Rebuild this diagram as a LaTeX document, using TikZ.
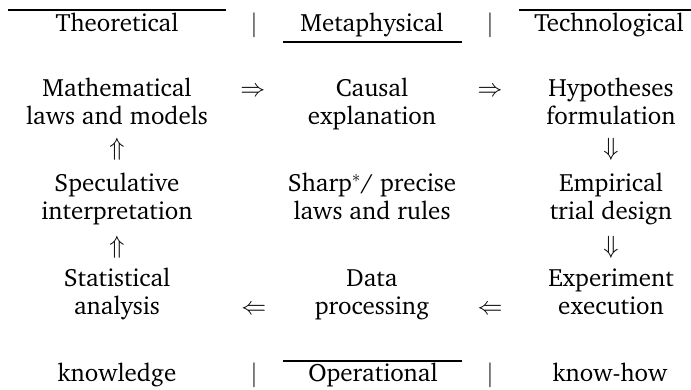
\documentclass[tikz,border=0pt]{standalone}
\usepackage[T1]{fontenc}
\usepackage{charter}

\begin{document}
\begin{tikzpicture}[x=1pt, y=1pt,
    stage/.style={align=center, inner sep=0pt, anchor=base, font=\fontsize{25}{28}\selectfont},
    sep/.style={inner sep=0pt, anchor=base, font=\fontsize{25}{28}\selectfont},
    link/.style={inner sep=0pt, anchor=base, font=\fontsize{25}{28}\selectfont},
    vlink/.style={inner sep=0pt, anchor=center, font=\fontsize{25}{28}\selectfont},
    rule/.style={line width=1.2pt},
]
\useasboundingbox (0,0) rectangle (691,390);

% Header
\node[stage] (theo) at (117,358) {Theoretical};
\node[sep] (bar1) at (254,358) {$|$};
\node[stage] (meta) at (372,358) {Metaphysical};
\node[sep] (bar2) at (490,358) {$|$};
\node[stage] (tech) at (609,358) {Technological};

% Nodes (base = last line)
\node[stage] (math) at (117,265) {Mathematical\\laws and models};
\node[stage] (causal) at (372,265) {Causal\\explanation};
\node[stage] (hyp) at (611,265) {Hypotheses\\formulation};
\node[stage] (spec) at (117,170) {Speculative\\interpretation};
\node[stage] (sharp) at (372,170) {Sharp$^*$/ precise\\laws and rules};
\node[stage] (emp) at (611,170) {Empirical\\trial design};
\node[stage] (stat) at (117,75) {Statistical\\analysis};
\node[stage] (proc) at (372,75) {Data\\processing};
\node[stage] (exec) at (611,75) {Experiment\\execution};

% Footer
\node[stage] (know) at (117,8) {knowledge};
\node[sep] (bar3) at (254,8) {$|$};
\node[stage] (oper) at (373,8) {Operational};
\node[sep] (bar4) at (490,8) {$|$};
\node[stage] (how) at (610,8) {know-how};

% Rules
\draw[rule] (8,380) -- (226,380);
\draw[rule] (519,380) -- (691,380);
\draw[rule] (283,348) -- (462,348);
\draw[rule] (283,29) -- (462,29);

% Connections
\path ([yshift=28pt]math.base) -- node[link, pos=.533] {$\Rightarrow$} ([yshift=28pt]causal.base);
\path ([yshift=28pt]causal.base) -- node[link, pos=.494] {$\Rightarrow$} ([yshift=28pt]hyp.base);
\path (hyp) -- node[vlink] {$\Downarrow$} (emp);
\path (emp) -- node[vlink] {$\Downarrow$} (exec);
\path (exec.base) -- node[link, pos=.506] {$\Leftarrow$} (proc.base);
\path (proc.base) -- node[link, pos=.463] {$\Leftarrow$} (stat.base);
\path (stat) -- node[vlink] {$\Uparrow$} (spec);
\path (spec) -- node[vlink] {$\Uparrow$} (math);

\end{tikzpicture}
\end{document}
